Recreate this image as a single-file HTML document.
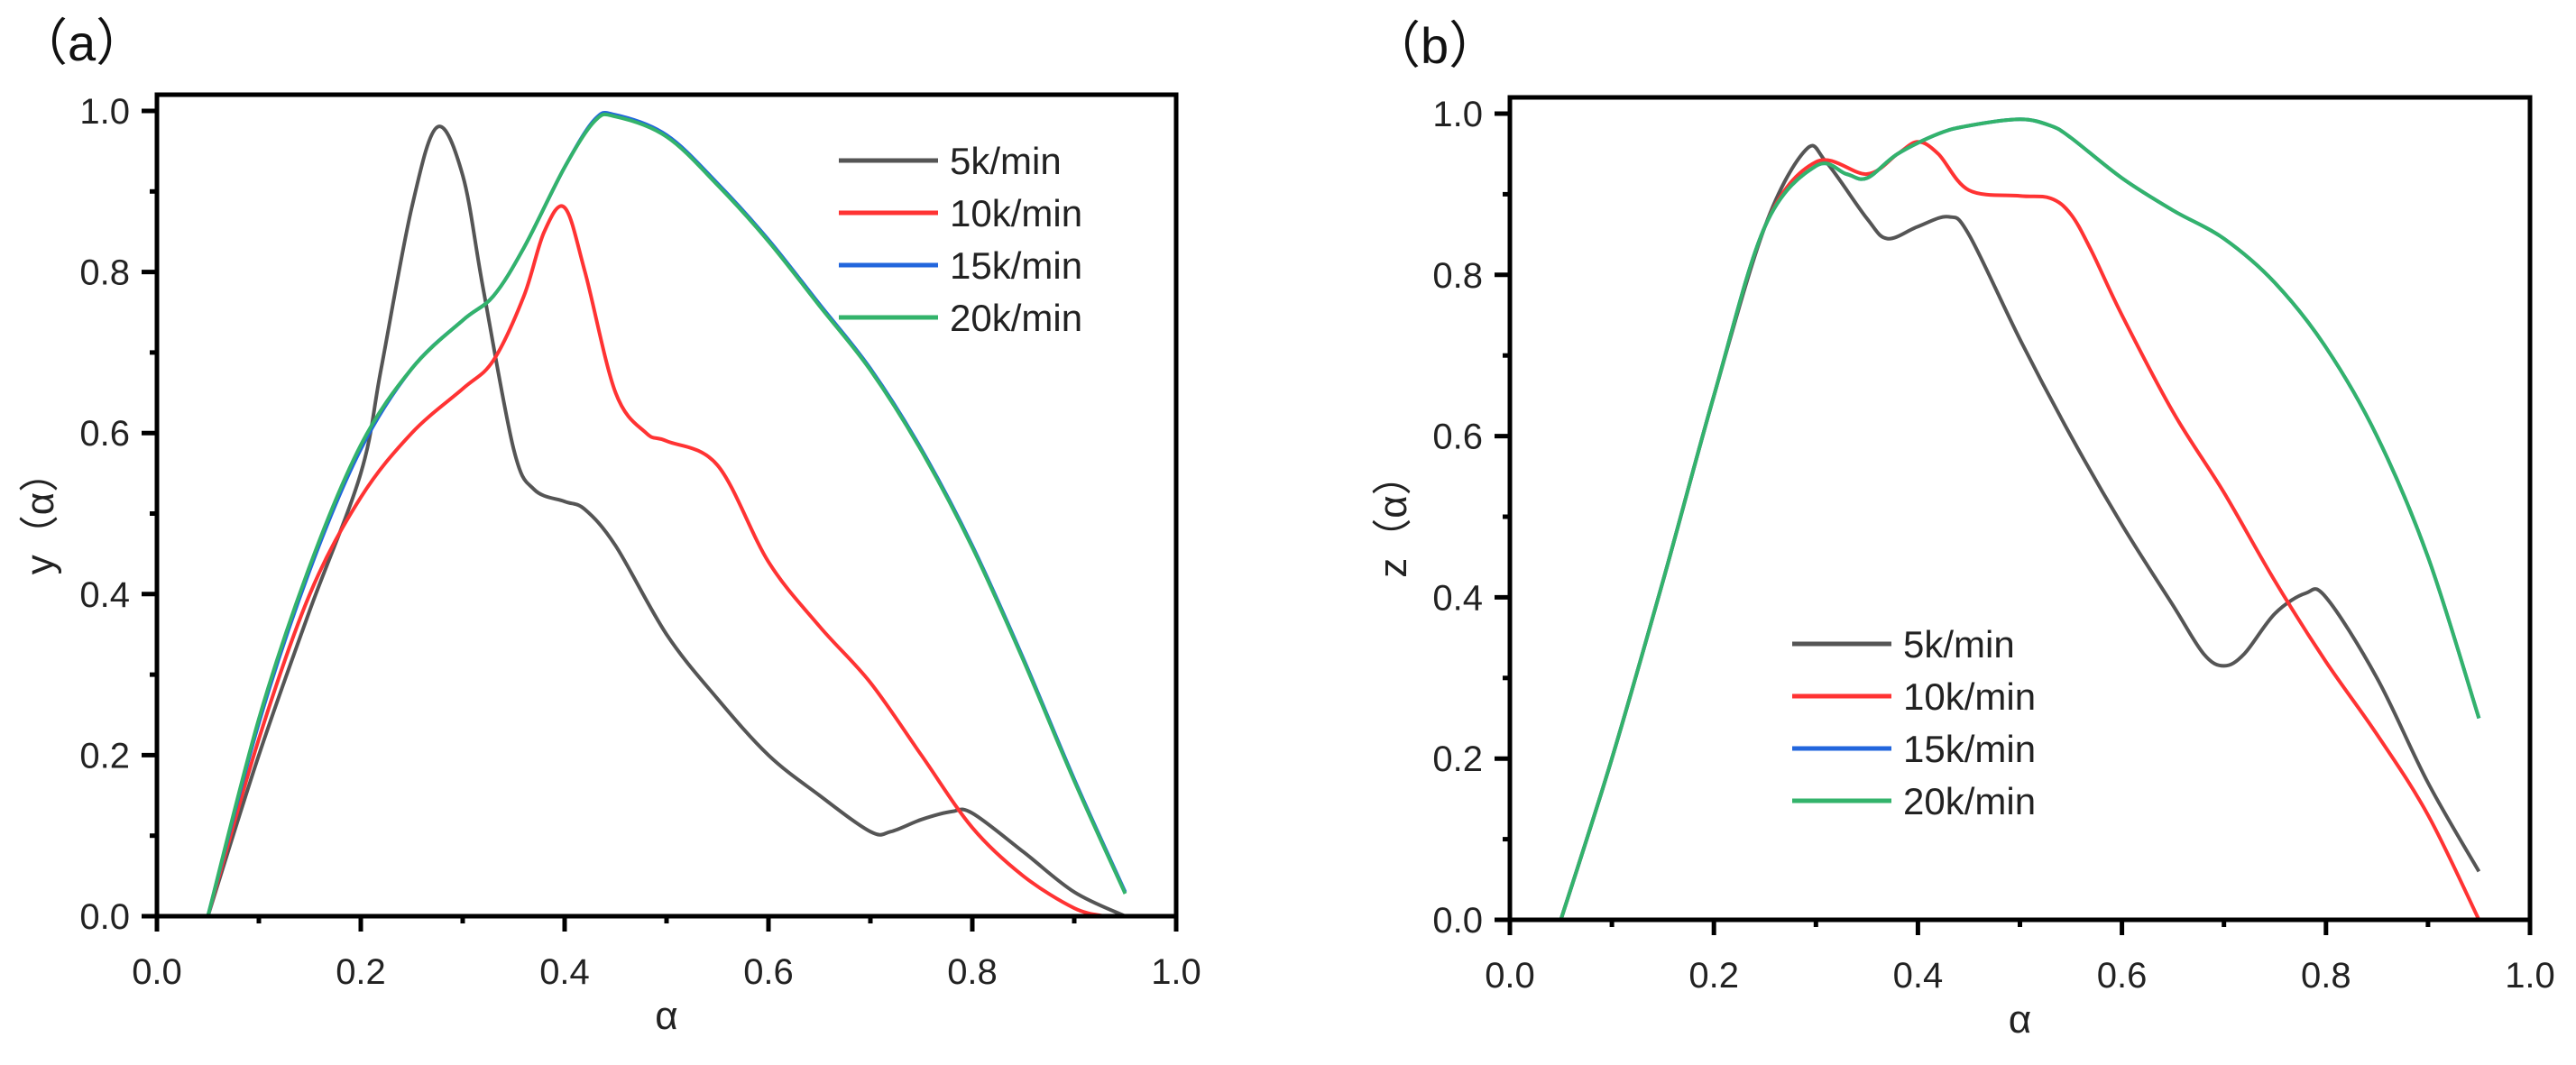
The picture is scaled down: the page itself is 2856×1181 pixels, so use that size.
<!DOCTYPE html>
<html><head><meta charset="utf-8"><style>
html,body{margin:0;padding:0;background:#fff;}
svg{display:block;font-family:"Liberation Sans","Noto Sans CJK SC",sans-serif;}
</style></head><body>
<svg id="fig" width="2856" height="1181" viewBox="0 0 2856 1181" xmlns="http://www.w3.org/2000/svg"></svg>
<script>
// Panel (a) data
const aX5 = [0.05,0.1,0.15,0.2,0.22,0.25,0.275,0.3,0.32,0.35,0.37,0.4,0.42,0.45,0.5,0.55,0.6,0.65,0.7,0.72,0.75,0.78,0.8,0.85,0.9,0.95];
const aY5 = [0,0.2,0.38,0.55,0.68,0.88,0.98,0.92,0.78,0.58,0.53,0.515,0.505,0.46,0.35,0.27,0.2,0.15,0.105,0.105,0.12,0.13,0.128,0.08,0.03,0];
const aX10 = [0.05,0.1,0.15,0.2,0.25,0.3,0.33,0.36,0.38,0.4,0.42,0.45,0.48,0.5,0.55,0.6,0.65,0.7,0.75,0.8,0.85,0.9,0.93];
const aY10 = [0,0.22,0.4,0.52,0.6,0.655,0.69,0.77,0.85,0.88,0.8,0.65,0.6,0.59,0.56,0.44,0.36,0.29,0.2,0.11,0.05,0.01,0];
const aX15 = [0.05,0.1,0.15,0.2,0.25,0.3,0.33,0.36,0.4,0.43,0.45,0.5,0.55,0.6,0.65,0.7,0.75,0.8,0.85,0.9,0.95];
const aY15 = [0,0.24,0.43,0.58,0.68,0.74,0.77,0.83,0.93,0.99,0.995,0.97,0.91,0.84,0.76,0.68,0.58,0.46,0.32,0.17,0.03];
const aY20 = [0,0.245,0.435,0.585,0.68,0.74,0.77,0.83,0.93,0.988,0.993,0.968,0.908,0.838,0.758,0.678,0.578,0.458,0.318,0.168,0.028];
// Panel (b) data
const bX5 = [0.05,0.1,0.15,0.2,0.25,0.29,0.31,0.35,0.37,0.4,0.43,0.45,0.5,0.55,0.6,0.65,0.68,0.7,0.72,0.75,0.78,0.8,0.85,0.9,0.95];
const bY5 = [0,0.2,0.42,0.65,0.86,0.955,0.94,0.87,0.845,0.86,0.872,0.85,0.72,0.6,0.49,0.39,0.33,0.315,0.33,0.38,0.405,0.40,0.3,0.17,0.06];
const bX10 = [0.05,0.1,0.15,0.2,0.25,0.3,0.35,0.38,0.4,0.42,0.45,0.5,0.53,0.55,0.57,0.6,0.65,0.7,0.75,0.8,0.85,0.9,0.95];
const bY10 = [0,0.2,0.42,0.65,0.86,0.94,0.925,0.95,0.965,0.95,0.905,0.898,0.895,0.875,0.83,0.75,0.63,0.53,0.42,0.32,0.23,0.13,0];
const bX20 = [0.05,0.1,0.15,0.2,0.25,0.3,0.33,0.35,0.38,0.42,0.45,0.5,0.53,0.55,0.6,0.65,0.7,0.75,0.8,0.85,0.9,0.95];
const bY20 = [0,0.2,0.42,0.65,0.86,0.935,0.925,0.92,0.95,0.975,0.985,0.993,0.985,0.97,0.92,0.88,0.845,0.79,0.71,0.6,0.45,0.25];
const bY15 = [0,0.2,0.42,0.65,0.86,0.935,0.925,0.92,0.95,0.975,0.985,0.993,0.985,0.97,0.92,0.88,0.845,0.79,0.71,0.6,0.45,0.25];
const xTicks = ["0.0","0.2","0.4","0.6","0.8","1.0"];
const yTicks = ["0.0","0.2","0.4","0.6","0.8","1.0"];
const legendLabels = ["5k/min","10k/min","15k/min","20k/min"];
const colors = ["#555555","#ff3333","#2266dd","#33b36b"];

const NS="http://www.w3.org/2000/svg";
const svg=document.getElementById('fig');
function mk(tag,attrs,parent){const e=document.createElementNS(NS,tag);for(const k in attrs)e.setAttribute(k,attrs[k]);(parent||svg).appendChild(e);return e;}
function pathFrom(xs,ys,sx,sy){
  const p=xs.map((x,i)=>[sx(x),sy(ys[i])]);
  let d="M"+p[0][0].toFixed(1)+","+p[0][1].toFixed(1);
  for(let i=0;i<p.length-1;i++){
    const p0=p[i-1]||p[i],p1=p[i],p2=p[i+1],p3=p[i+2]||p[i+1];
    const c1=[p1[0]+(p2[0]-p0[0])/6,p1[1]+(p2[1]-p0[1])/6];
    const c2=[p2[0]-(p3[0]-p1[0])/6,p2[1]-(p3[1]-p1[1])/6];
    d+=` C${c1[0].toFixed(1)},${c1[1].toFixed(1)} ${c2[0].toFixed(1)},${c2[1].toFixed(1)} ${p2[0].toFixed(1)},${p2[1].toFixed(1)}`;
  }
  return d;
}
function panel(o){
  const g=mk('g',{});
  
  
  const sx=v=>o.x0+(o.x1-o.x0)*v;
  const sy=v=>o.y0-(o.y0-o.y1)*v;
  o.series.forEach((s,i)=>{
    const p=mk('path',{d:pathFrom(s.x,s.y,sx,sy),fill:'none',stroke:s.c,'stroke-width':4,'stroke-linejoin':'round'},g);
    
    
  });
  const fr=mk('rect',{x:o.x0,y:o.top,width:o.x1-o.x0,height:o.y0-o.top,fill:'none',stroke:'#000','stroke-width':5},g);
  
  
  for(let i=0;i<=10;i++){
    const v=i/10,maj=i%2===0,len=maj?17:8;
    mk('line',{x1:sx(v),x2:sx(v),y1:o.y0,y2:o.y0+len,stroke:'#000','stroke-width':5},g);
    mk('line',{x1:o.x0,x2:o.x0-len,y1:sy(v),y2:sy(v),stroke:'#000','stroke-width':5},g);
  }
  xTicks.forEach((t,i)=>{
    const e=mk('text',{x:sx(i*0.2),y:o.y0+75,'font-size':40,'text-anchor':'middle',fill:'#222'},g);e.textContent=t;
    
    
  });
  yTicks.forEach((t,i)=>{
    const e=mk('text',{x:o.x0-30,y:sy(i*0.2)+14,'font-size':40,'text-anchor':'end',fill:'#222'},g);e.textContent=t;
    
    
  });
  const xl=mk('text',{x:(o.x0+o.x1)/2,y:o.y0+125,'font-size':44,'text-anchor':'middle',fill:'#222'},g);xl.textContent='α';
  
  
  const yl=mk('text',{x:0,y:0,'font-size':44,'text-anchor':'middle',fill:'#222',transform:`translate(${o.x0-115},${(o.y0+o.y1)/2}) rotate(-90)`},g);yl.textContent=o.ylab;
  
  
  const pl=mk('text',{x:o.x0-155,y:o.top-38,'font-size':56,fill:'#111'},g);pl.textContent=o.plab;
  
  
  legendLabels.forEach((t,i)=>{
    const y=o.ly+i*58;
    const l=mk('line',{x1:o.lx,x2:o.lx+110,y1:y,y2:y,stroke:colors[i],'stroke-width':5},g);
    
    
    const e=mk('text',{x:o.lx+123,y:y+15,'font-size':42,fill:'#222'},g);e.textContent=t;
    
    
  });
}
panel({name:'panel-a',x0:174,x1:1304,y0:1016,y1:123,top:105,ylab:'y（α）',plab:'（a）',lx:930,ly:178,
 series:[{x:aX5,y:aY5,c:colors[0],n:'line-5k'},{x:aX10,y:aY10,c:colors[1],n:'line-10k'},{x:aX15,y:aY15,c:colors[2],n:'line-15k'},{x:aX15,y:aY20,c:colors[3],n:'line-20k'}]});
panel({name:'panel-b',x0:1674,x1:2805,y0:1020,y1:126,top:108,ylab:'z（α）',plab:'（b）',lx:1987,ly:714,
 series:[{x:bX5,y:bY5,c:colors[0],n:'line-5k'},{x:bX10,y:bY10,c:colors[1],n:'line-10k'},{x:bX20,y:bY15,c:colors[2],n:'line-15k'},{x:bX20,y:bY20,c:colors[3],n:'line-20k'}]});
</script>
</body></html>
